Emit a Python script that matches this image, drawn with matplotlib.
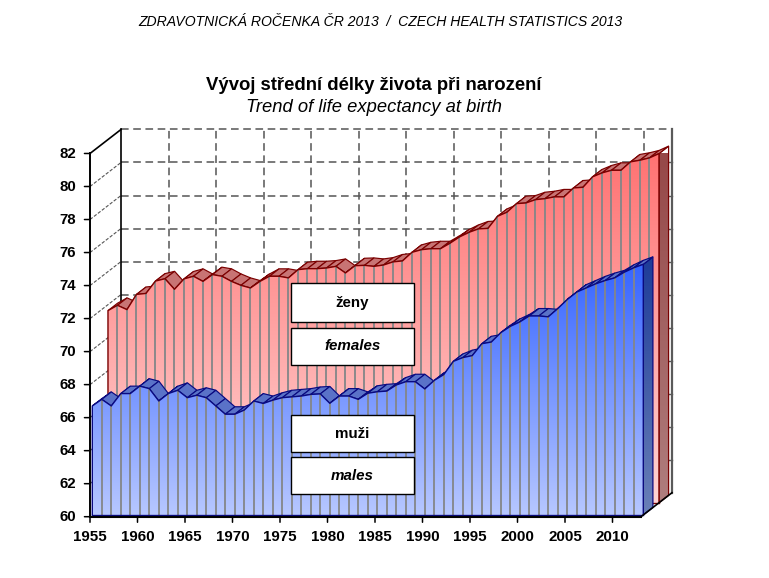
import numpy as np
import matplotlib
matplotlib.use("Agg")
import matplotlib.pyplot as plt
from matplotlib.patches import Polygon, Rectangle
from matplotlib.colors import LinearSegmentedColormap

plt.rcParams['font.family'] = ['Liberation Sans', 'DejaVu Sans']

years = list(range(1955, 2014))
males = [66.6, 67.0, 66.6, 67.35, 67.35, 67.8, 67.65, 66.9, 67.35, 67.55,
         67.1, 67.25, 67.1, 66.6, 66.1, 66.1, 66.35, 66.9, 66.75, 66.95,
         67.1, 67.15, 67.2, 67.3, 67.33, 66.76, 67.2, 67.2, 67.0, 67.37,
         67.46, 67.5, 67.87, 68.07, 68.07, 67.63, 68.15, 68.5, 69.3, 69.53,
         69.65, 70.37, 70.47, 71.04, 71.42, 71.69, 72.05, 72.05, 72.0, 72.5,
         73.05, 73.5, 73.75, 74.0, 74.2, 74.36, 74.7, 74.97, 75.18]
females = [71.64, 71.96, 71.7, 72.62, 72.68, 73.43, 73.57, 72.93, 73.56, 73.72,
           73.41, 73.82, 73.72, 73.41, 73.17, 73.01, 73.41, 73.72, 73.72, 73.62,
           74.12, 74.18, 74.18, 74.22, 74.32, 73.92, 74.36, 74.38, 74.32, 74.4,
           74.59, 74.65, 75.17, 75.33, 75.39, 75.39, 75.72, 76.1, 76.38, 76.59,
           76.62, 77.35, 77.6, 78.12, 78.16, 78.36, 78.42, 78.53, 78.53, 79.07,
           79.11, 79.74, 79.98, 80.14, 80.14, 80.65, 80.75, 80.89, 81.15]
year_ticks = list(range(1955, 2011, 5))
value_ticks = list(range(60, 83, 2))
box_labels = ["ženy", "females", "muži", "males"]
box_styles = ["normal", "italic", "normal", "italic"]

W, H = 769, 578
PX_YEAR = 9.5
PX_VALUE = 16.51
X0, Y0 = 90.0, 516.7
DEPTH_X = 31 / PX_YEAR
DEPTH_Y = 24 / PX_VALUE
YMIN, YMAX = value_ticks[0], value_ticks[-1]
XMIN, XMAX = years[0], years[-1]

fig = plt.figure(figsize=(W / 100, H / 100), dpi=100, facecolor="white")
ax = fig.add_axes([0, 0, 1, 1])
ax.set_xlim(XMIN - X0 / PX_YEAR, XMIN + (W - X0) / PX_YEAR)
ax.set_ylim(YMIN - (H - Y0) / PX_VALUE, YMIN + Y0 / PX_VALUE)
ax.axis("off")


def pr(x, y, depth):
    return np.asarray(x, float) + depth * DEPTH_X, np.asarray(y, float) + depth * DEPTH_Y


def gradient(xs, ys, top, bottom, vtop, vbot, z):
    cmap = LinearSegmentedColormap.from_list("g", [top, bottom])
    im = ax.imshow(np.linspace(0, 1, 256)[:, None], cmap=cmap, aspect="auto",
                   extent=[min(xs) - 1, max(xs) + 1, vbot, vtop], origin="upper",
                   zorder=z, interpolation="bilinear")
    poly = Polygon(np.column_stack([xs, ys]), closed=True, transform=ax.transData,
                   facecolor="none", edgecolor="none")
    ax.add_patch(poly)
    im.set_clip_path(poly)
    return im


GRID = "#555555"
# back wall grid
for v in value_ticks[1:]:
    xa, ya = pr([XMIN, XMAX], [v, v], 1)
    ax.plot(xa, ya, color=GRID, lw=1.1, ls=(0, (5, 3)), zorder=1)
    if v < YMAX:
        ax.plot([XMIN, XMIN + DEPTH_X], [v, v + DEPTH_Y], color=GRID, lw=0.8,
                ls=(0, (3, 1.5)), zorder=1)
for t in year_ticks[1:]:
    xa, ya = pr([t, t], [YMIN, YMAX], 1)
    ax.plot(xa, ya, color=GRID, lw=1.1, ls=(0, (5, 3)), zorder=1)
# left back edge, right wall edge
xa, ya = pr([XMIN, XMIN], [YMIN, YMAX], 1)
ax.plot(xa, ya, color="black", lw=1.2, zorder=1)
xa, ya = pr([XMAX, XMAX], [YMIN, YMAX], 1)
ax.plot(xa, ya, color="#5a5a5a", lw=1.6, zorder=1)
for v in value_ticks[1:-1]:
    xa, ya = pr([XMAX - 0.35, XMAX], [v, v], 1)
    ax.plot(xa, ya, color="#5a5a5a", lw=1.0, zorder=1)


def ribbon(vals, d_front, d_back, face_top, face_bot, side_top, side_bot,
           rib_col, edge, vtop, z):
    vals = np.asarray(vals, float)
    yrs = np.asarray(years, float)
    fx, fy = pr(yrs, vals, d_front)
    bx, by = pr(yrs, vals, d_back)
    bfx, bfy = pr(yrs, np.full_like(vals, YMIN), d_front)
    # side face
    sbx, sby = pr(XMAX, YMIN, d_back)
    sx = [fx[-1], bx[-1], sbx, bfx[-1]]
    sy = [fy[-1], by[-1], sby, bfy[-1]]
    gradient(sx, sy, side_top, side_bot, vtop, YMIN, z)
    ax.plot(sx + sx[:1], sy + sy[:1], color=edge, lw=0.9, zorder=z + 0.1)
    # top ribbon quads
    for i in range(len(yrs) - 1):
        q = np.array([[fx[i], fy[i]], [fx[i + 1], fy[i + 1]],
                      [bx[i + 1], by[i + 1]], [bx[i], by[i]]])
        ax.add_patch(Polygon(q, closed=True, facecolor=rib_col, edgecolor=edge,
                             lw=0.85, zorder=z + 0.2))
    # front face
    px = np.r_[fx, bfx[-1], bfx[0]]
    py = np.r_[fy, bfy[-1], bfy[0]]
    gradient(px, py, face_top, face_bot, vtop, YMIN, z + 0.3)
    # drop lines
    ax.vlines(fx[1:-1], bfy[1:-1], fy[1:-1], color="#848688", lw=1.3, zorder=z + 0.4)
    ax.plot(np.r_[fx[0], fx, fx[-1]], np.r_[bfy[0], fy, bfy[-1]], color=edge, lw=1.0,
            zorder=z + 0.5)
    ax.plot([bfx[0], bfx[-1]], [bfy[0], bfy[-1]], color=edge, lw=1.0, zorder=z + 0.5)


ribbon(females, 0.58, 0.89, "#ff7272", "#ffd8d8", "#964848", "#b08080",
       "#c87474", "#7a0000", 82.0, 2)
ribbon(males, 0.074, 0.384, "#3060ff", "#b8c8ff", "#1c3a98", "#6a80b8",
       "#5a72c8", "#0a0a80", 76.0, 4)

# axes frame
ax.plot([XMIN, XMIN], [YMIN, YMAX], color="black", lw=1.4, zorder=7)
ax.plot([XMIN, XMAX], [YMIN, YMIN], color="black", lw=1.5, zorder=7)
ax.plot([XMIN, XMIN + DEPTH_X], [YMAX, YMAX + DEPTH_Y], color="black", lw=1.2, zorder=7)
ax.plot([XMAX, XMAX + DEPTH_X], [YMIN, YMIN + DEPTH_Y], color="black", lw=1.2, zorder=7)
for v in value_ticks:
    ax.annotate("", xy=(XMIN, v), xytext=(-4, 0), textcoords="offset points",
                arrowprops=dict(arrowstyle="-", lw=1.1, color="black", shrinkA=0, shrinkB=0),
                zorder=7)
    ax.annotate(str(v), xy=(XMIN, v), xytext=(-10, -0.5), textcoords="offset points",
                ha="right", va="center", fontsize=10.8, fontweight="bold", color="black")
for t in year_ticks:
    ax.annotate("", xy=(t, YMIN), xytext=(0, -4), textcoords="offset points",
                arrowprops=dict(arrowstyle="-", lw=1.1, color="black", shrinkA=0, shrinkB=0),
                zorder=7)
    ax.annotate(str(t), xy=(t, YMIN), xytext=(0, -14.5), textcoords="offset points",
                ha="center", va="center", fontsize=10.9, fontweight="bold", color="black")

# label boxes
boxes_px = [(283.3, 321.7), (328.3, 364.7), (415.3, 451.7), (457.3, 494.3)]
for (y0, y1), lab, st in zip(boxes_px, box_labels, box_styles):
    fig.add_artist(Rectangle((291.3 / W, 1 - y1 / H), (413.7 - 291.3) / W, (y1 - y0) / H,
                             transform=fig.transFigure, facecolor="white",
                             edgecolor="black", lw=1.0, zorder=10))
    fig.text(352.5 / W, 1 - (y0 + y1) / 2 / H, lab, ha="center", va="center",
             fontsize=10.9, fontweight="bold", fontstyle=st, zorder=11)

fig.text(380 / W, 1 - 21.5 / H, "ZDRAVOTNICKÁ ROČENKA ČR 2013  /  CZECH HEALTH STATISTICS 2013",
         ha="center", va="center", fontsize=10.1, fontstyle="italic")
fig.text(374 / W, 1 - 85.5 / H, "Vývoj střední délky života při narození",
         ha="center", va="center", fontsize=13.3, fontweight="bold")
fig.text(374.5 / W, 1 - 107 / H, "Trend of life expectancy at birth",
         ha="center", va="center", fontsize=13.2, fontstyle="italic")

fig.savefig("out.png", dpi=100, facecolor="white")
